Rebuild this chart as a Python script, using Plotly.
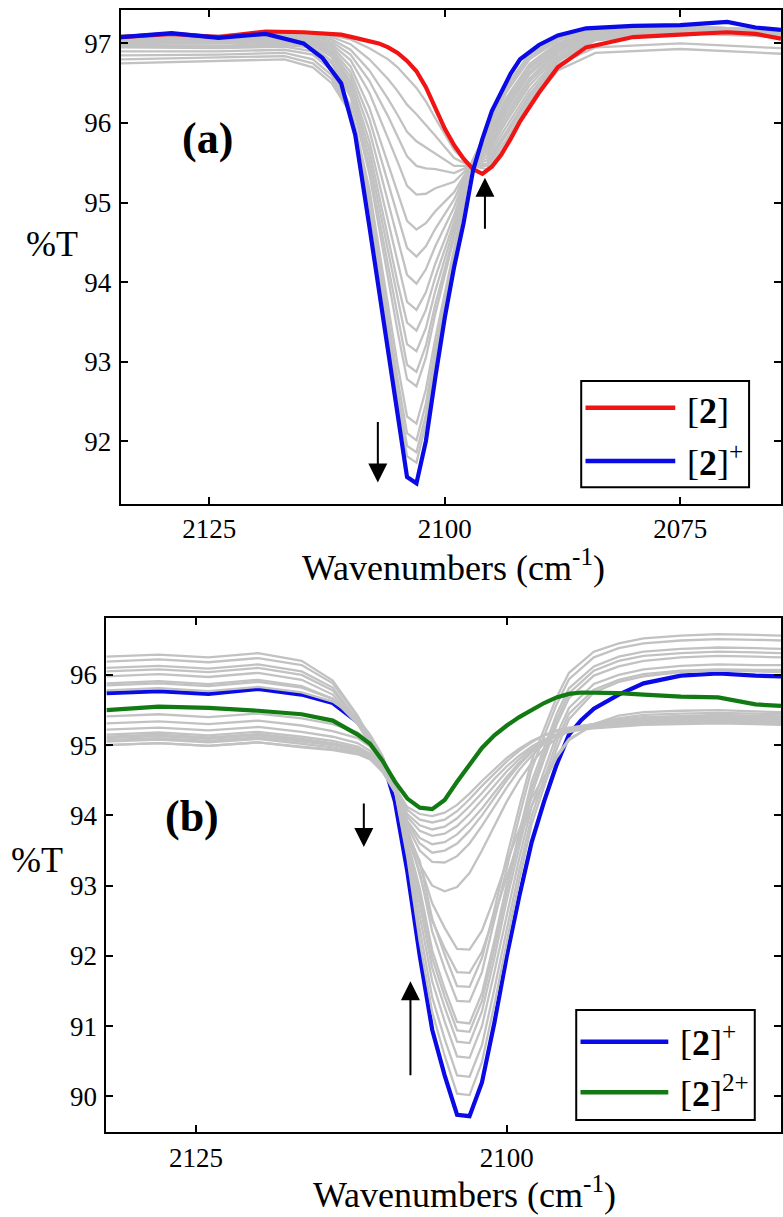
import plotly.graph_objects as go

W, H = 783, 1217
FONT = "Liberation Serif"

# ---------------- Panel (a): [2] -> [2]+ ----------------
wn_a = [2134.4, 2129, 2124, 2119, 2115, 2113, 2111, 2109.5, 2108, 2107, 2106, 2105, 2104, 2103,
        2102, 2101, 2100, 2099, 2098, 2097, 2096, 2095, 2094, 2093, 2092, 2090, 2088, 2085,
        2080, 2075, 2070, 2067, 2064.3]
blue_a = [97.08, 97.13, 97.07, 97.12, 97.0, 96.82, 96.5, 95.85, 94.7, 93.9, 93.1, 92.3, 91.55, 91.47,
          92.0, 92.8, 93.55, 94.19, 94.74, 95.4, 95.8, 96.15, 96.38, 96.62, 96.8, 96.98, 97.1, 97.19,
          97.22, 97.23, 97.27, 97.2, 97.17]
red_a = [97.08, 97.12, 97.08, 97.15, 97.14, 97.13, 97.11, 97.07, 97.03, 97.0, 96.95, 96.88, 96.78, 96.65,
         96.45, 96.2, 95.93, 95.72, 95.55, 95.42, 95.36, 95.45, 95.6, 95.8, 96.02, 96.38, 96.7, 96.95,
         97.08, 97.11, 97.14, 97.12, 97.06]

wn_a_grey = [2134.4, 2124, 2117, 2114, 2112, 2110, 2108, 2106, 2105, 2104, 2103, 2102, 2101, 2099,
             2097.3, 2095.5, 2093.5, 2091, 2088, 2084, 2075, 2064.3]
a_g01 = [97.1, 97.1, 97.15, 97.13, 97.10, 97.05, 96.94, 96.80, 96.70, 96.57, 96.44, 96.27, 96.06, 95.66, 95.46, 95.42, 95.73, 96.23, 96.66, 96.88, 96.93, 96.87]
a_g02 = [97.1, 97.1, 97.15, 97.12, 97.08, 96.99, 96.80, 96.55, 96.40, 96.23, 96.11, 95.98, 95.84, 95.56, 95.46, 95.46, 95.78, 96.27, 96.74, 96.95, 97.0, 96.94]
a_g03 = [97.08, 97.08, 97.13, 97.10, 97.05, 96.92, 96.66, 96.30, 96.10, 95.89, 95.77, 95.69, 95.62, 95.46, 95.46, 95.49, 95.84, 96.32, 96.77, 97.04, 97.13, 97.08]
a_g04 = [97.08, 97.06, 97.12, 97.09, 97.02, 96.86, 96.53, 96.08, 95.83, 95.58, 95.46, 95.43, 95.42, 95.37, 95.46, 95.53, 95.88, 96.36, 96.79, 97.05, 97.14, 97.09]
a_g05 = [97.06, 97.05, 97.1, 97.07, 96.99, 96.79, 96.38, 95.81, 95.51, 95.21, 95.10, 95.11, 95.18, 95.26, 95.46, 95.57, 95.94, 96.41, 96.82, 97.06, 97.15, 97.09]
a_g06 = [97.05, 97.04, 97.08, 97.06, 96.96, 96.71, 96.19, 95.49, 95.12, 94.77, 94.66, 94.74, 94.89, 95.13, 95.46, 95.61, 96.01, 96.47, 96.85, 97.08, 97.16, 97.10]
a_g07 = [97.04, 97.03, 97.07, 97.04, 96.93, 96.64, 96.05, 95.24, 94.82, 94.43, 94.32, 94.45, 94.67, 95.04, 95.46, 95.65, 96.06, 96.52, 96.88, 97.09, 97.16, 97.11]
a_g08 = [97.02, 97.02, 97.05, 97.03, 96.90, 96.58, 95.91, 94.99, 94.52, 94.09, 93.98, 94.16, 94.45, 94.94, 95.46, 95.68, 96.11, 96.56, 96.91, 97.11, 97.17, 97.12]
a_g09 = [97.0, 97.0, 97.03, 97.01, 96.88, 96.52, 95.77, 94.75, 94.22, 93.75, 93.65, 93.87, 94.23, 94.84, 95.46, 95.72, 96.16, 96.61, 96.93, 97.12, 97.18, 97.12]
a_g10 = [97.0, 97.0, 97.02, 97.00, 96.86, 96.47, 95.66, 94.56, 93.99, 93.49, 93.39, 93.65, 94.06, 94.76, 95.46, 95.75, 96.20, 96.64, 96.95, 97.13, 97.19, 97.13]
a_g11 = [96.98, 96.97, 97.0, 96.98, 96.83, 96.42, 95.55, 94.37, 93.77, 93.22, 93.13, 93.42, 93.89, 94.69, 95.46, 95.77, 96.24, 96.68, 96.97, 97.14, 97.19, 97.13]
a_g12 = [96.96, 96.95, 96.98, 96.95, 96.78, 96.37, 95.44, 94.18, 93.54, 92.96, 92.87, 93.20, 93.72, 94.61, 95.46, 95.80, 96.28, 96.71, 96.99, 97.15, 97.20, 97.14]
a_g13 = [96.95, 96.94, 96.96, 96.9, 96.75, 96.33, 95.36, 94.04, 93.38, 92.78, 92.69, 93.05, 93.60, 94.56, 95.46, 95.82, 96.31, 96.74, 97.01, 97.16, 97.20, 97.14]
a_g14 = [96.9, 96.9, 96.92, 96.86, 96.66, 96.22, 95.17, 93.70, 92.96, 92.31, 92.22, 92.65, 93.29, 94.42, 95.46, 95.87, 96.38, 96.80, 97.04, 97.18, 97.21, 97.15]
a_g15 = [96.85, 96.86, 96.88, 96.8, 96.6, 96.18, 95.08, 93.55, 92.78, 92.10, 92.01, 92.47, 93.16, 94.36, 95.46, 95.89, 96.42, 96.83, 97.06, 97.19, 97.22, 97.16]
a_g16 = [96.8, 96.82, 96.84, 96.75, 96.55, 96.15, 95.01, 93.43, 92.64, 91.94, 91.86, 92.33, 93.05, 94.31, 95.46, 95.91, 96.44, 96.85, 97.07, 97.19, 97.22, 97.16]
a_g17 = [96.75, 96.78, 96.8, 96.7, 96.5, 96.12, 94.96, 93.34, 92.53, 91.81, 91.73, 92.22, 92.97, 94.28, 95.46, 95.92, 96.46, 96.87, 97.08, 97.20, 97.22, 97.16]
grey_a = [a_g01, a_g02, a_g03, a_g04, a_g05, a_g06, a_g07, a_g08, a_g09, a_g10,
          a_g11, a_g12, a_g13, a_g14, a_g15, a_g16, a_g17]

xticks_a = [2125, 2100, 2075]
yticks_a = [92, 93, 94, 95, 96, 97]

# ---------------- Panel (b): [2]+ -> [2]2+ ----------------
wn_b = [2132.2, 2128, 2124, 2120, 2116.5, 2114, 2112, 2111, 2110, 2109, 2108, 2107, 2106, 2105,
        2104, 2103, 2102, 2101, 2100, 2099, 2098, 2097, 2096, 2095, 2094, 2093, 2091, 2089,
        2086, 2083, 2080, 2077.95]
blue_b = [95.74, 95.77, 95.73, 95.80, 95.72, 95.60, 95.33, 95.10, 94.80, 94.20, 93.20, 92.00, 90.95, 90.30,
          89.74, 89.72, 90.20, 91.05, 92.00, 92.85, 93.62, 94.20, 94.72, 95.15, 95.36, 95.52, 95.72, 95.88,
          95.99, 96.02, 95.99, 95.98]
green_b = [95.50, 95.55, 95.53, 95.49, 95.44, 95.35, 95.15, 95.02, 94.78, 94.48, 94.24, 94.11, 94.09, 94.22,
           94.48, 94.72, 94.96, 95.14, 95.28, 95.40, 95.50, 95.60, 95.68, 95.73, 95.75, 95.75, 95.74, 95.72,
           95.69, 95.68, 95.58, 95.56]

b_g01 = [95.78, 95.81, 95.77, 95.83, 95.75, 95.62, 95.38, 95.15, 94.85, 94.35, 93.4, 92.2, 91.2, 90.58, 90.04, 90.02, 90.49, 91.31, 92.2, 93.07, 93.88, 94.41, 94.94, 95.37, 95.56, 95.75, 95.9, 95.98, 96.04, 96.06, 96.05, 96.04]
b_g02 = [95.85, 95.88, 95.84, 95.90, 95.82, 95.66, 95.36, 95.12, 94.82, 94.38, 93.45, 92.38, 91.41, 90.82, 90.30, 90.28, 90.73, 91.53, 92.38, 93.22, 93.99, 94.52, 95.04, 95.45, 95.62, 95.79, 95.93, 96.01, 96.06, 96.08, 96.07, 96.07]
b_g03 = [95.88, 95.91, 95.87, 95.93, 95.84, 95.66, 95.3, 95.05, 94.75, 94.4, 93.5, 92.57, 91.64, 91.07, 90.57, 90.55, 91.0, 91.77, 92.6, 93.39, 94.13, 94.64, 95.14, 95.53, 95.70, 95.87, 96.0, 96.08, 96.13, 96.15, 96.14, 96.14]
b_g04 = [95.98, 96.01, 95.97, 96.03, 95.93, 95.72, 95.3, 95.02, 94.7, 94.42, 93.55, 92.74, 91.83, 91.27, 90.78, 90.76, 91.21, 91.97, 92.8, 93.57, 94.30, 94.80, 95.29, 95.67, 95.83, 95.99, 96.12, 96.2, 96.25, 96.27, 96.26, 96.25]
b_g05 = [96.05, 96.08, 96.04, 96.10, 96.0, 95.78, 95.32, 95.02, 94.68, 94.44, 93.6, 92.86, 91.97, 91.42, 90.94, 90.92, 91.36, 92.11, 92.92, 93.69, 94.39, 94.88, 95.36, 95.74, 95.9, 96.06, 96.2, 96.27, 96.31, 96.33, 96.32, 96.31]
b_g06 = [96.10, 96.13, 96.09, 96.15, 96.05, 95.82, 95.35, 95.05, 94.7, 94.46, 93.65, 92.96, 92.08, 91.53, 91.06, 91.04, 91.47, 92.22, 93.02, 93.77, 94.48, 94.96, 95.44, 95.81, 95.97, 96.12, 96.26, 96.33, 96.37, 96.39, 96.38, 96.37]
b_g07 = [96.19, 96.22, 96.18, 96.24, 96.14, 95.88, 95.4, 95.08, 94.72, 94.5, 93.7, 93.19, 92.35, 91.82, 91.36, 91.35, 91.77, 92.49, 93.25, 93.98, 94.66, 95.13, 95.58, 95.94, 96.10, 96.25, 96.38, 96.45, 96.49, 96.51, 96.50, 96.49]
b_g08 = [96.26, 96.29, 96.25, 96.31, 96.2, 95.92, 95.42, 95.1, 94.74, 94.52, 93.75, 93.35, 92.53, 92.02, 91.57, 91.56, 91.97, 92.66, 93.41, 94.12, 94.78, 95.23, 95.68, 96.03, 96.18, 96.33, 96.45, 96.52, 96.56, 96.58, 96.57, 96.56]
b_g09 = [95.41, 95.44, 95.40, 95.45, 95.38, 95.30, 95.18, 95.05, 94.8, 94.42, 93.8, 93.13, 92.5, 92.11, 91.77, 91.76, 92.06, 92.57, 93.13, 93.65, 94.14, 94.47, 94.82, 95.07, 95.18, 95.30, 95.42, 95.47, 95.49, 95.5, 95.48, 95.47]
b_g10 = [95.31, 95.34, 95.30, 95.35, 95.28, 95.20, 95.1, 94.98, 94.75, 94.38, 93.78, 93.31, 92.75, 92.4, 92.1, 92.09, 92.36, 92.83, 93.34, 93.81, 94.25, 94.55, 94.85, 95.09, 95.19, 95.29, 95.38, 95.43, 95.45, 95.46, 95.45, 95.44]
b_g11 = [95.22, 95.25, 95.21, 95.26, 95.19, 95.12, 95.03, 94.92, 94.7, 94.36, 93.8, 93.3, 93.0, 92.92, 92.98, 93.18, 93.5, 93.85, 94.2, 94.5, 94.75, 94.95, 95.1, 95.2, 95.26, 95.3, 95.36, 95.4, 95.42, 95.43, 95.42, 95.41]
b_g12 = [95.15, 95.18, 95.14, 95.19, 95.12, 95.06, 94.98, 94.88, 94.68, 94.35, 93.85, 93.5, 93.34, 93.33, 93.42, 93.6, 93.85, 94.12, 94.4, 94.65, 94.85, 95.02, 95.14, 95.22, 95.27, 95.3, 95.35, 95.38, 95.40, 95.41, 95.40, 95.39]
b_g13 = [95.07, 95.10, 95.06, 95.11, 95.05, 95.0, 94.93, 94.84, 94.65, 94.34, 93.9, 93.6, 93.47, 93.5, 93.6, 93.78, 94.0, 94.25, 94.5, 94.72, 94.9, 95.05, 95.15, 95.22, 95.26, 95.29, 95.33, 95.36, 95.38, 95.39, 95.38, 95.37]
b_g14 = [95.0, 95.03, 94.99, 95.04, 94.98, 94.94, 94.88, 94.8, 94.62, 94.33, 93.92, 93.68, 93.59, 93.62, 93.73, 93.9, 94.1, 94.33, 94.55, 94.75, 94.92, 95.05, 95.14, 95.2, 95.24, 95.27, 95.31, 95.33, 95.35, 95.36, 95.35, 95.34]
b_g15 = [95.05, 95.08, 95.04, 95.09, 95.02, 94.97, 94.9, 94.82, 94.64, 94.36, 93.98, 93.78, 93.71, 93.74, 93.85, 94.02, 94.22, 94.43, 94.63, 94.8, 94.95, 95.07, 95.15, 95.2, 95.24, 95.26, 95.3, 95.32, 95.33, 95.34, 95.33, 95.32]
b_g16 = [95.10, 95.13, 95.09, 95.14, 95.07, 95.01, 94.93, 94.84, 94.66, 94.38, 94.02, 93.86, 93.8, 93.84, 93.96, 94.13, 94.32, 94.52, 94.7, 94.85, 94.98, 95.08, 95.15, 95.19, 95.22, 95.24, 95.27, 95.29, 95.30, 95.31, 95.30, 95.29]
b_g17 = [95.12, 95.15, 95.11, 95.16, 95.09, 95.03, 94.95, 94.86, 94.68, 94.42, 94.08, 93.94, 93.9, 93.94, 94.06, 94.23, 94.42, 94.6, 94.77, 94.92, 95.04, 95.14, 95.21, 95.25, 95.28, 95.3, 95.33, 95.35, 95.36, 95.37, 95.36, 95.35]
b_g18 = [95.0, 95.03, 94.99, 95.04, 94.97, 94.93, 94.87, 94.8, 94.64, 94.4, 94.12, 94.02, 93.99, 94.04, 94.15, 94.31, 94.49, 94.66, 94.82, 94.95, 95.06, 95.14, 95.2, 95.23, 95.25, 95.27, 95.29, 95.31, 95.32, 95.33, 95.32, 95.31]
grey_b = [b_g01, b_g02, b_g03, b_g04, b_g05, b_g06, b_g07, b_g08, b_g09, b_g10,
          b_g11, b_g12, b_g13, b_g14, b_g15, b_g16, b_g17, b_g18]

xticks_b = [2125, 2100]
yticks_b = [90, 91, 92, 93, 94, 95, 96]

RED = "#f01414"
BLUE = "#0a0ae6"
GREEN = "#127a12"
GREY = "#c2c2c2"


def px(x):
    return x / W


def py(y):
    return 1 - y / H


fig = go.Figure()

for g in grey_a:
    fig.add_trace(go.Scatter(x=wn_a_grey, y=g, mode="lines", line=dict(color=GREY, width=2.3),
                             xaxis="x", yaxis="y", showlegend=False, hoverinfo="skip"))
fig.add_trace(go.Scatter(x=wn_a, y=red_a, mode="lines", line=dict(color=RED, width=4.2),
                         xaxis="x", yaxis="y", showlegend=False))
fig.add_trace(go.Scatter(x=wn_a, y=blue_a, mode="lines", line=dict(color=BLUE, width=4.2),
                         xaxis="x", yaxis="y", showlegend=False))

fig.add_trace(go.Scatter(x=wn_b, y=blue_b, mode="lines", line=dict(color=BLUE, width=4.2),
                         xaxis="x2", yaxis="y2", showlegend=False))
for g in grey_b:
    fig.add_trace(go.Scatter(x=wn_b, y=g, mode="lines", line=dict(color=GREY, width=2.3),
                             xaxis="x2", yaxis="y2", showlegend=False, hoverinfo="skip"))
fig.add_trace(go.Scatter(x=wn_b, y=green_b, mode="lines", line=dict(color=GREEN, width=4.2),
                         xaxis="x2", yaxis="y2", showlegend=False))


def axis_style(standoff):
    return dict(showline=True, linewidth=2, linecolor="black", mirror="ticks",
                ticks="inside", ticklen=7, tickwidth=1.5, tickcolor="black",
                showgrid=False, zeroline=False, ticklabelstandoff=standoff,
                tickfont=dict(family=FONT, size=27, color="black"))


fig.update_layout(
    width=W, height=H,
    margin=dict(l=0, r=0, t=0, b=0),
    paper_bgcolor="white", plot_bgcolor="white",
    font=dict(family=FONT, size=27, color="black"),
    xaxis=dict(domain=[px(121), 1.0], anchor="y", range=[2134.4, 2064.3],
               tickvals=xticks_a, **axis_style(0)),
    yaxis=dict(domain=[py(504), py(10)], anchor="x", range=[91.21, 97.42],
               tickvals=yticks_a, **axis_style(2)),
    xaxis2=dict(domain=[px(106.7), 1.0], anchor="y2", range=[2132.2, 2077.95],
                tickvals=xticks_b, **axis_style(0)),
    yaxis2=dict(domain=[py(1132.3), py(618)], anchor="x2", range=[89.49, 96.81],
                tickvals=yticks_b, **axis_style(2)),
)

ann = []
shapes = []


def text(x, y, s, size, xanchor="center", bold=False):
    ann.append(dict(x=px(x), y=py(y), xref="paper", yref="paper", text=("<b>%s</b>" % s) if bold else s,
                    showarrow=False, xanchor=xanchor, yanchor="middle",
                    font=dict(family=FONT, size=size, color="black")))


# axis titles / labels
text(52.5, 244, "%T", 36)
text(37.5, 860, "%T", 36)
text(455, 565, "Wavenumbers (cm<sup>-1</sup>)", 36)
text(466, 1192, "Wavenumbers (cm<sup>-1</sup>)", 36)
text(208, 138, "(a)", 44, bold=True)
text(192, 816, "(b)", 44, bold=True)


def arrow(xr, yr, x, y_tail, y_head):
    ann.append(dict(x=x, y=y_head, ax=x, ay=y_tail, xref=xr, yref=yr, axref=xr, ayref=yr,
                    text="", showarrow=True, arrowhead=2, arrowsize=1.9, arrowwidth=2,
                    arrowcolor="black", standoff=0, startstandoff=0))


arrow("x", "y", 2107.1, 92.26, 91.48)
arrow("x", "y", 2095.73, 94.65, 95.31)
arrow("x2", "y2", 2111.5, 94.19, 93.55)
arrow("x2", "y2", 2107.75, 90.28, 91.64)


def legend_box(x0, x1, y0, y1):
    shapes.append(dict(type="rect", xref="paper", yref="paper", x0=px(x0), x1=px(x1), y0=py(y1), y1=py(y0),
                       line=dict(color="black", width=2), fillcolor="white", layer="above"))


def legend_line(x0, x1, y, color):
    shapes.append(dict(type="line", xref="paper", yref="paper", x0=px(x0), x1=px(x1), y0=py(y), y1=py(y),
                       line=dict(color=color, width=4.5), layer="above"))


legend_box(582.7, 751, 381, 487.3)
legend_line(587, 677, 407.7, RED)
legend_line(587, 677, 461, BLUE)
text(686.7, 411, "[<b>2</b>]", 36, xanchor="left")
text(686.7, 460, "[<b>2</b>]<sup>+</sup>", 36, xanchor="left")

legend_box(577.7, 756.7, 1010, 1120)
legend_line(582, 670, 1041.7, BLUE)
legend_line(582, 670, 1092.3, GREEN)
text(680, 1040, "[<b>2</b>]<sup>+</sup>", 36, xanchor="left")
text(680, 1091, "[<b>2</b>]<sup>2+</sup>", 36, xanchor="left")

fig.update_layout(annotations=ann, shapes=shapes)
fig.write_html("out.html",
               config={"displayModeBar": False},
               post_script="document.body.style.margin='0px';document.body.style.padding='0px';"
                           "document.documentElement.style.overflow='hidden';")
